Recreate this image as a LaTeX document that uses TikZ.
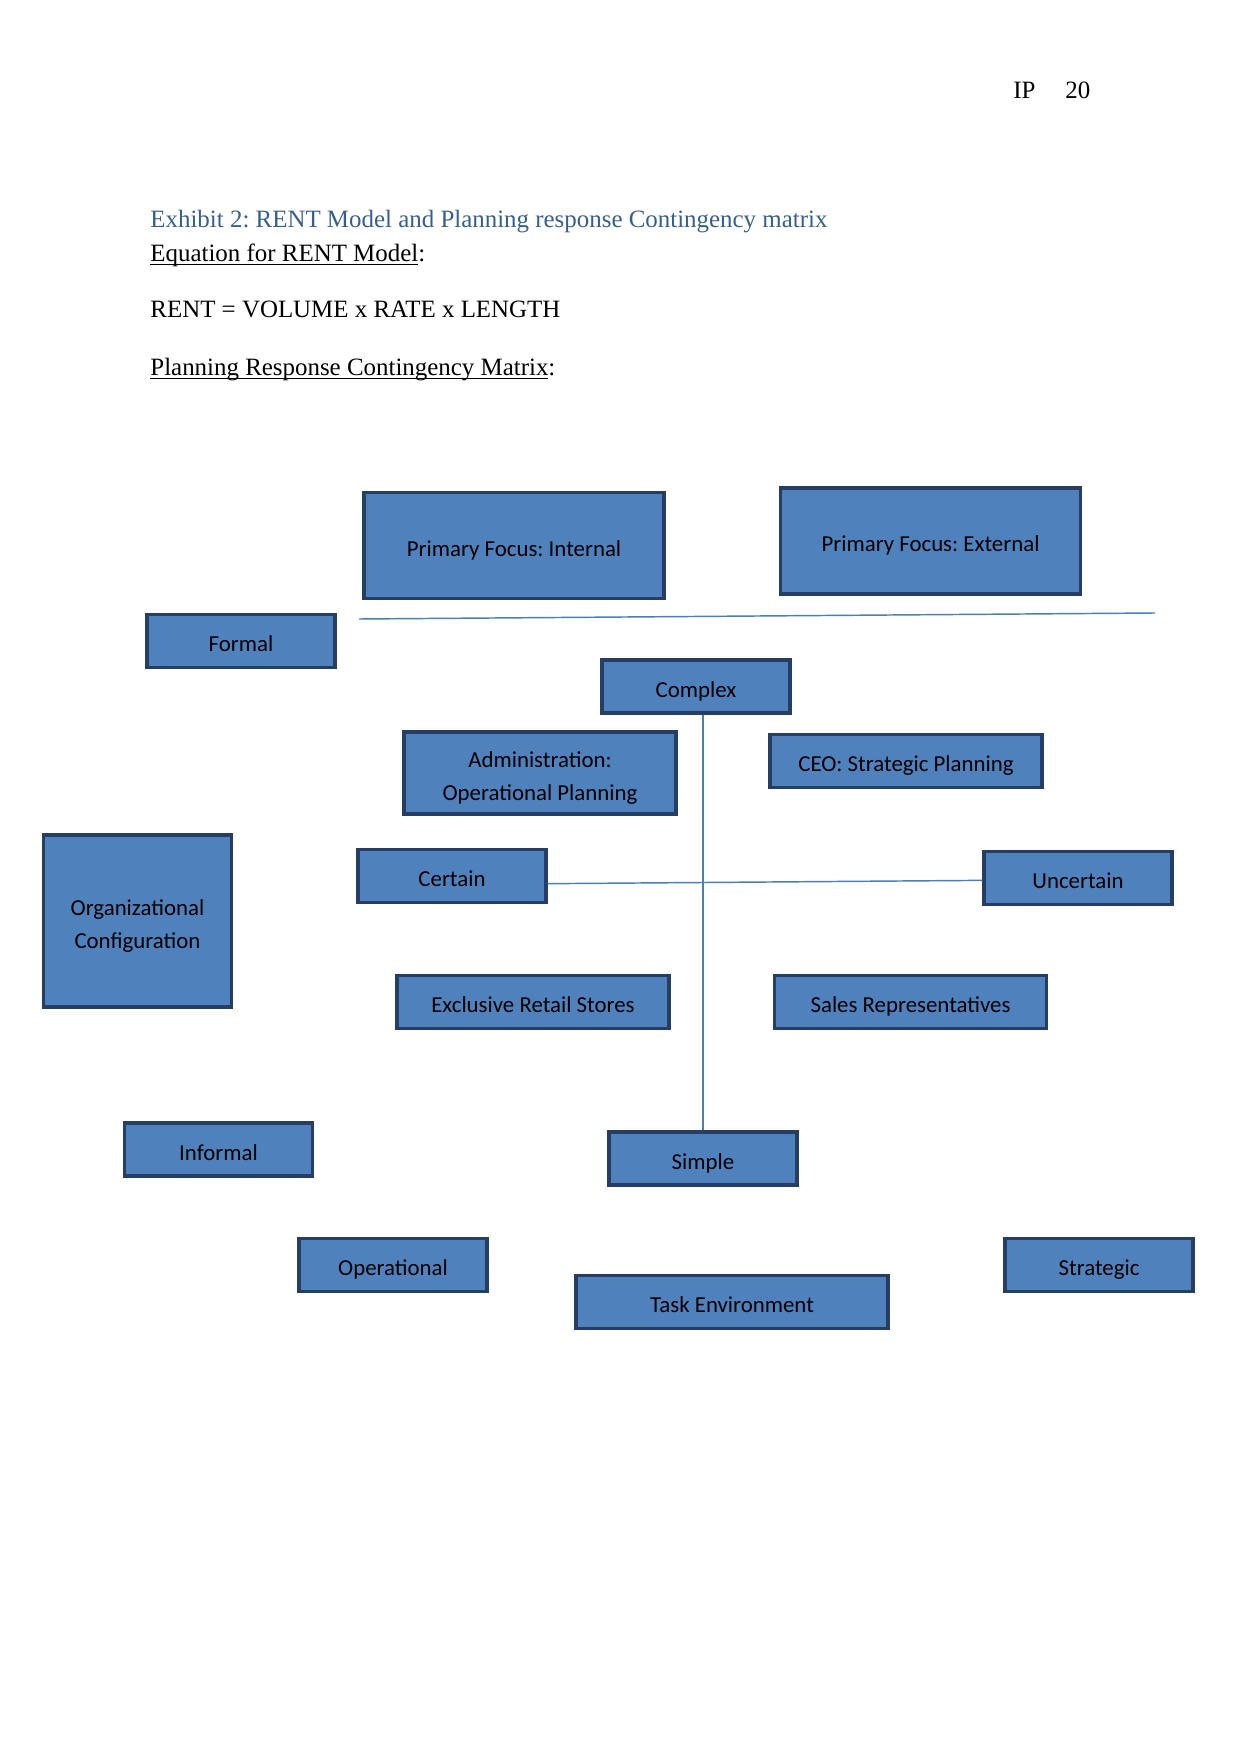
\documentclass[tikz,border=0pt]{standalone}
\usepackage{fontspec}
\setmainfont{Liberation Serif}
\newfontfamily\boxfont{Carlito}
\usetikzlibrary{positioning}
\definecolor{boxfill}{RGB}{79,129,189}
\definecolor{boxline}{RGB}{38,62,100}
\definecolor{axisline}{RGB}{74,126,187}
\definecolor{titleblue}{RGB}{54,95,145}
\newcommand\ulword[1]{\setbox0=\hbox{#1}\rlap{\rule[-1.6pt]{\wd0}{0.5pt}}\box0}
\frenchspacing

\begin{document}
\begin{tikzpicture}[
  x=0.016922cm, y=-0.016922cm,
  cell/.style={rectangle, draw=boxline, line width=1.5pt, fill=boxfill,
               inner sep=0pt, align=center, text height=10.4pt, text depth=0pt,
               font=\boxfont\fontsize{11}{14.5}\selectfont},
  twoline/.style={text height=26.1pt, font=\boxfont\fontsize{11}{15.6}\selectfont},
  bigcell/.style={cell, minimum width=300*0.016922cm, minimum height=106*0.016922cm},
  shortcell/.style={cell, minimum width=188*0.016922cm, minimum height=53*0.016922cm},
  midcell/.style={cell, minimum width=272*0.016922cm, minimum height=53*0.016922cm},
  axis/.style={draw=axisline, line width=0.7pt},
  txt/.style={anchor=base west, inner sep=0pt, font=\fontsize{12}{14}\selectfont}
]
  \useasboundingbox (0,0) rectangle (1241,1754);

  \node[txt] (ip) at (1013,99) {IP};
  \node[txt] (page) at (1065,99) {20};
  \node[txt, text=titleblue] (title) at (150,228)
    {Exhibit 2: RENT Model and Planning response Contingency matrix};
  \node[txt] (eqhead) at (150,262) {\ulword{Equation for RENT Model}:};
  \node[txt] (rent) at (150,318) {RENT = VOLUME x RATE x LENGTH};
  \node[txt] (matrixhead) at (150,376) {\ulword{Planning Response Contingency Matrix}:};

  \node[bigcell] (internal) at (514,545.5) {Primary Focus: Internal};
  \node[bigcell] (external) at (930.5,541) {Primary Focus: External};
  \node[shortcell] (formal) at (241,641) {Formal};
  \node[shortcell] (complex) at (696,686.5) {Complex};
  \node[midcell, twoline, minimum height=82*0.016922cm] (admin) at (540,773)
    {Administration:\\Operational Planning};
  \node[midcell] (ceo) at (906,761) {CEO: Strategic Planning};
  \node[shortcell, twoline, minimum height=172*0.016922cm] (orgconf) at (137.5,921)
    {Organizational\\Configuration};
  \node[shortcell] (certain) at (452,876) {Certain};
  \node[shortcell] (uncertain) at (1078,878) {Uncertain};
  \node[midcell] (retail) at (533,1002) {Exclusive Retail Stores};
  \node[midcell] (sales) at (910.5,1002) {Sales Representatives};
  \node[shortcell] (informal) at (218.5,1149.5) {Informal};
  \node[shortcell] (simple) at (703,1158.5) {Simple};
  \node[shortcell] (operational) at (393,1265) {Operational};
  \node[midcell, minimum width=312*0.016922cm] (taskenv) at (732,1302) {Task Environment};
  \node[shortcell] (strategic) at (1099,1265) {Strategic};

  \coordinate (focusL) at (359,619);
  \coordinate (focusR) at (1155,613);
  \draw[axis] (focusL) -- (focusR);
  \draw[axis] ([yshift=-0.13cm]certain.east) -- ([yshift=-0.04cm]uncertain.west);
  \draw[axis] (simple.north) -- (simple.north |- complex.south);
\end{tikzpicture}
\end{document}
